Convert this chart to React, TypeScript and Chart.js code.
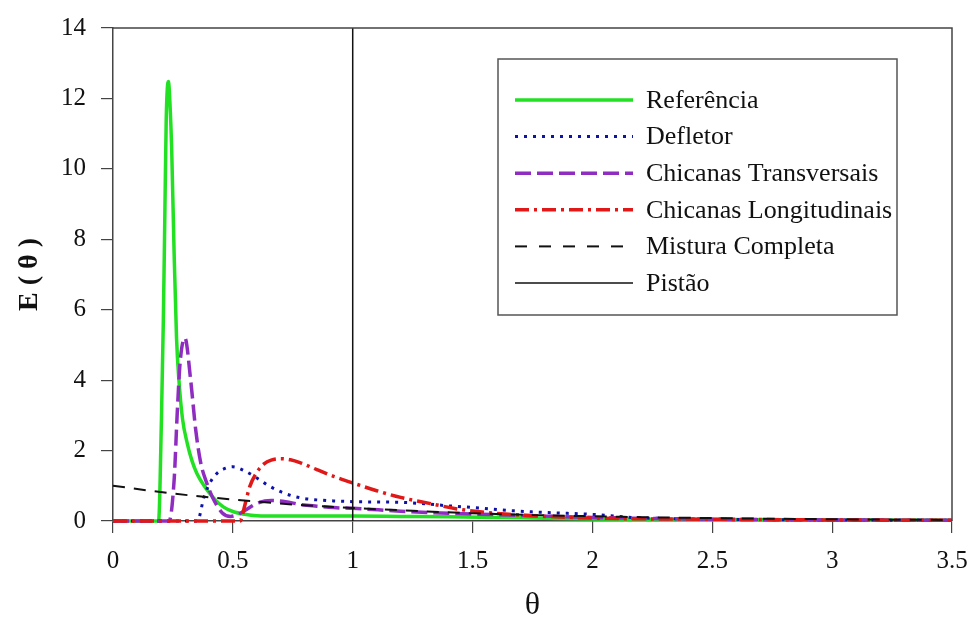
import React, { useEffect, useRef } from "react";
import { Chart, registerables } from "chart.js";

Chart.register(...registerables);

// ---- data ----
const xTickValues = [0, 0.5, 1, 1.5, 2, 2.5, 3, 3.5];
const yTickValues = [0, 2, 4, 6, 8, 10, 12, 14];

const seriesLabels = [
  "Referência",
  "Defletor",
  "Chicanas Transversais",
  "Chicanas Longitudinais",
  "Mistura Completa",
  "Pistão",
];

const refTheta = [0, 0.19, 0.202, 0.21, 0.216, 0.222, 0.231, 0.238, 0.245, 0.255, 0.265, 0.275, 0.29, 0.31, 0.33, 0.35, 0.38, 0.42, 0.46, 0.5, 0.55, 0.6, 0.7, 0.8, 1.0, 1.2, 1.4, 1.6, 1.8, 2.0, 2.2, 2.5, 3.0, 3.5];
const refE = [0, 0, 2.87, 5.7, 8.55, 11.4, 12.48, 11.8, 10.5, 7.6, 5.2, 4.0, 2.9, 2.2, 1.7, 1.35, 1.0, 0.65, 0.4, 0.27, 0.19, 0.15, 0.14, 0.14, 0.14, 0.13, 0.12, 0.1, 0.08, 0.06, 0.05, 0.04, 0.03, 0.02];

const defTheta = [0, 0.352, 0.38, 0.41, 0.435, 0.47, 0.5, 0.55, 0.6, 0.645, 0.71, 0.78, 0.85, 0.92, 1.0, 1.1, 1.2, 1.3, 1.4, 1.53, 1.67, 1.81, 2.02, 2.17, 2.4, 2.7, 3.0, 3.5];
const defE = [0, 0, 0.69, 1.15, 1.36, 1.5, 1.54, 1.42, 1.22, 1.02, 0.8, 0.66, 0.6, 0.57, 0.55, 0.54, 0.53, 0.49, 0.43, 0.37, 0.29, 0.24, 0.18, 0.1, 0.06, 0.04, 0.03, 0.02];

const traTheta = [0, 0.234, 0.255, 0.268, 0.28, 0.3, 0.324, 0.345, 0.366, 0.39, 0.414, 0.456, 0.49, 0.52, 0.55, 0.6, 0.66, 0.72, 0.78, 0.85, 0.92, 1.0, 1.2, 1.4, 1.6, 1.8, 2.0, 2.5, 3.0, 3.5];
const traE = [0, 0, 1.16, 3.07, 4.5, 5.2, 4.0, 2.59, 1.65, 1.1, 0.69, 0.23, 0.13, 0.18, 0.3, 0.5, 0.58, 0.55, 0.47, 0.42, 0.38, 0.36, 0.28, 0.22, 0.18, 0.14, 0.1, 0.05, 0.03, 0.02];

const lonTheta = [0, 0.53, 0.55, 0.57, 0.6, 0.63, 0.66, 0.7, 0.74, 0.78, 0.85, 0.92, 1.0, 1.1, 1.2, 1.32, 1.43, 1.53, 1.65, 1.81, 2.02, 2.5, 3.0, 3.5];
const lonE = [0, 0, 0.45, 0.97, 1.38, 1.62, 1.73, 1.77, 1.74, 1.66, 1.46, 1.27, 1.08, 0.86, 0.67, 0.5, 0.35, 0.26, 0.19, 0.13, 0.08, 0.05, 0.03, 0.02];

const mixTheta = [0, 0.25, 0.5, 0.75, 1, 1.25, 1.5, 1.75, 2, 2.25, 2.5, 2.75, 3, 3.25, 3.5];
const mixE = [1.0, 0.78, 0.61, 0.47, 0.37, 0.29, 0.22, 0.17, 0.135, 0.105, 0.082, 0.064, 0.05, 0.039, 0.03];

const pisTheta = [1, 1];
const pisE = [0, 14];

const toPoints = (xs: number[], ys: number[]) => xs.map((x, i) => ({ x, y: ys[i] }));

const SERIF = '"Liberation Serif", "Times New Roman", serif';

const framePlugin = {
  id: "frame",
  afterDraw(chart: any) {
    const { ctx, chartArea } = chart;
    ctx.save();
    ctx.strokeStyle = "#444";
    ctx.lineWidth = 1.5;
    ctx.beginPath();
    ctx.moveTo(chartArea.left, chartArea.top);
    ctx.lineTo(chartArea.right, chartArea.top);
    ctx.lineTo(chartArea.right, chartArea.bottom);
    ctx.stroke();
    ctx.restore();
  },
};

const boxLegendPlugin = {
  id: "boxLegend",
  afterDatasetsDraw(chart: any) {
    const { ctx } = chart;
    const bx = 498, by = 59, bw = 399, bh = 256;
    ctx.save();
    ctx.fillStyle = "#fff";
    ctx.fillRect(bx, by, bw, bh);
    ctx.strokeStyle = "#555";
    ctx.lineWidth = 1.5;
    ctx.setLineDash([]);
    ctx.strokeRect(bx, by, bw, bh);
    chart.data.datasets.forEach((ds: any, i: number) => {
      const y = 100 + i * 36.6;
      ctx.save();
      ctx.setLineDash(ds.legendDash || ds.borderDash || []);
      ctx.strokeStyle = ds.borderColor;
      ctx.lineWidth = ds.borderWidth;
      ctx.beginPath();
      ctx.moveTo(515, y);
      ctx.lineTo(633, y);
      ctx.stroke();
      ctx.restore();
      ctx.fillStyle = "#111";
      ctx.font = `26px ${SERIF}`;
      ctx.textBaseline = "middle";
      ctx.textAlign = "left";
      ctx.fillText(ds.label, 646, y + 1);
    });
    ctx.restore();
  },
};

export default function App() {
  const canvasRef = useRef<HTMLCanvasElement | null>(null);

  useEffect(() => {
    if (!canvasRef.current) return;
    const common = {
      pointRadius: 0,
      fill: false,
      clip: false as any,
      cubicInterpolationMode: "monotone" as const,
    };
    const chart = new Chart(canvasRef.current, {
      type: "line",
      data: {
        datasets: [
          { ...common, order: 6, label: seriesLabels[0], data: toPoints(refTheta, refE), borderColor: "#22E022", borderWidth: 3.5, borderDash: [] },
          { ...common, order: 5, label: seriesLabels[1], data: toPoints(defTheta, defE), borderColor: "#0F12A8", borderWidth: 3, borderDash: [3, 6] },
          { ...common, order: 4, label: seriesLabels[2], data: toPoints(traTheta, traE), borderColor: "#8E2DC0", borderWidth: 3.5, borderDash: [16, 6] },
          { ...common, order: 3, label: seriesLabels[3], data: toPoints(lonTheta, lonE), borderColor: "#E01818", borderWidth: 3.5, borderDash: [14, 5, 3, 5] },
          { ...common, order: 2, label: seriesLabels[4], data: toPoints(mixTheta, mixE), borderColor: "#111", borderWidth: 2, borderDash: [12, 9], legendDash: [12, 12] } as any,
          { ...common, order: 1, label: seriesLabels[5], data: toPoints(pisTheta, pisE), borderColor: "#111", borderWidth: 1.5, borderDash: [], cubicInterpolationMode: "default" },
        ],
      },
      options: {
        responsive: false,
        animation: false,
        layout: { padding: { top: 28, right: 16, left: 0, bottom: 0 } },
        plugins: {
          legend: { display: false },
          tooltip: { enabled: false },
        },
        scales: {
          x: {
            type: "linear",
            min: 0,
            max: 3.5,
            afterBuildTicks: (scale: any) => {
              scale.ticks = xTickValues.map((v) => ({ value: v }));
            },
            afterFit: (scale: any) => {
              scale.height = 101;
              scale.paddingLeft = 0;
              scale.paddingRight = 0;
            },
            ticks: {
              color: "#111",
              font: { family: SERIF, size: 25 },
              padding: 13,
              maxRotation: 0,
              autoSkip: false,
              callback: (v: any) => String(v),
            },
            grid: { display: true, drawOnChartArea: false, drawTicks: true, tickLength: 12, color: "#444", lineWidth: 1.2 },
            border: { display: true, color: "#444", width: 1.5 },
            title: {
              display: true,
              text: "θ",
              color: "#111",
              font: { family: SERIF, size: 32, lineHeight: 1 },
              padding: { top: 0, bottom: 0 },
            },
          },
          y: {
            type: "linear",
            min: 0,
            max: 14,
            afterBuildTicks: (scale: any) => {
              scale.ticks = yTickValues.map((v) => ({ value: v }));
            },
            afterFit: (scale: any) => {
              scale.width = 113;
              scale.paddingTop = 0;
              scale.paddingBottom = 0;
            },
            ticks: {
              color: "#111",
              font: { family: SERIF, size: 25 },
              padding: 15,
              autoSkip: false,
              callback: (v: any) => String(v),
            },
            grid: { display: true, drawOnChartArea: false, drawTicks: true, tickLength: 12, color: "#444", lineWidth: 1.2 },
            border: { display: true, color: "#444", width: 1.5 },
            title: {
              display: true,
              text: "E ( θ )",
              color: "#111",
              font: { family: SERIF, size: 28, weight: "bold", lineHeight: 1.2 },
              padding: { top: 13, bottom: 0 },
            },
          },
        },
      },
      plugins: [framePlugin, boxLegendPlugin],
    } as any);
    return () => chart.destroy();
  }, []);

  return (
    <div style={{ position: "absolute", left: 0, top: 0, width: 968, height: 622, background: "#fff" }}>
      <canvas ref={canvasRef} width={968} height={622} style={{ display: "block" }} />
    </div>
  );
}
